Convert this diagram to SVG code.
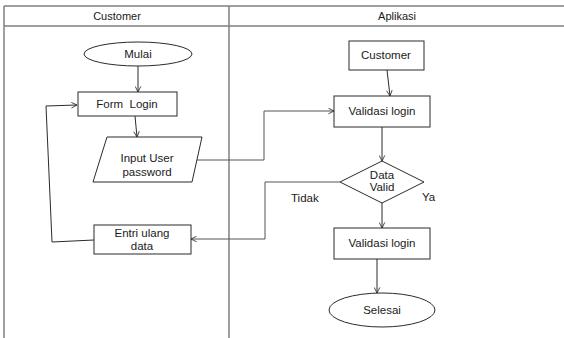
<svg xmlns="http://www.w3.org/2000/svg" width="564" height="338" viewBox="0 0 564 338">
  <style>
    .frame { stroke: #7f7f7f; stroke-width: 1.5; fill: none; }
    .shape { fill: #ffffff; stroke: #2b2b2b; stroke-width: 1; }
    .flow { fill: none; stroke: #2b2b2b; stroke-width: 1; }
    .flow-grey { fill: none; stroke: #555555; stroke-width: 1; }
    text { font-family: "Liberation Sans", Arial, sans-serif; font-size: 11.5px; fill: #1a1a1a; text-anchor: middle; }
    .head { font-size: 11px; }
    .label { text-anchor: start; }
  </style>
  <defs>
    <marker id="arrow" viewBox="0 0 10 10" refX="9" refY="5" markerWidth="7" markerHeight="7" orient="auto" markerUnits="userSpaceOnUse">
      <polyline points="1,1 9,5 1,9" fill="none" stroke="#2b2b2b" stroke-width="1.2"/>
    </marker>
  </defs>

  <rect width="564" height="338" fill="#ffffff"/>

  <!-- swimlane frame -->
  <g id="lanes">
    <line class="frame" x1="4" y1="6" x2="564" y2="6"/>
    <line class="frame" x1="4" y1="26" x2="564" y2="26"/>
    <line class="frame" x1="4" y1="6" x2="4" y2="338"/>
    <line class="frame" x1="229" y1="6" x2="229" y2="338"/>
    <text class="head" x="117" y="20">Customer</text>
    <text class="head" x="397" y="20">Aplikasi</text>
  </g>

  <!-- connectors -->
  <g id="connectors">
    <line class="flow" x1="138" y1="66" x2="138" y2="92" marker-end="url(#arrow)"/>
    <line class="flow" x1="135" y1="116" x2="137" y2="137" marker-end="url(#arrow)"/>
    <polyline class="flow-grey" points="197,160 264,160 264,111 334,111" marker-end="url(#arrow)"/>
    <line class="flow" x1="387" y1="70" x2="390" y2="96" marker-end="url(#arrow)"/>
    <line class="flow" x1="382" y1="127" x2="382" y2="161" marker-end="url(#arrow)"/>
    <polyline class="flow-grey" points="340,182 265,182 265,239 191,239" marker-end="url(#arrow)"/>
    <polyline class="flow" points="94,240 52,242 46,106 77,105" marker-end="url(#arrow)"/>
    <line class="flow" x1="382" y1="203" x2="382" y2="228" marker-end="url(#arrow)"/>
    <line class="flow" x1="377" y1="259" x2="377" y2="293" marker-end="url(#arrow)"/>
    <text class="label" x="291" y="202">Tidak</text>
    <text class="label" x="422" y="201">Ya</text>
  </g>

  <g id="mulai">
    <ellipse class="shape" cx="138" cy="54" rx="54" ry="12"/>
    <text x="138" y="58">Mulai</text>
  </g>

  <g id="form-login">
    <rect class="shape" x="78" y="92" width="99" height="24"/>
    <text x="127" y="108" xml:space="preserve">Form  Login</text>
  </g>

  <g id="input-user">
    <polygon class="shape" points="107,137 202,137 192,182 93,182"/>
    <text x="147" y="162">Input User</text>
    <text x="147" y="176">password</text>
  </g>

  <g id="entri-ulang">
    <rect class="shape" x="94" y="225" width="97" height="29"/>
    <text x="142" y="237">Entri ulang</text>
    <text x="142" y="250">data</text>
  </g>

  <g id="customer">
    <rect class="shape" x="349" y="41" width="75" height="29"/>
    <text x="386" y="59">Customer</text>
  </g>

  <g id="validasi-login-1">
    <rect class="shape" x="334" y="96" width="96" height="31"/>
    <text x="382" y="115">Validasi login</text>
  </g>

  <g id="data-valid">
    <polygon class="shape" points="382,161 424,182 382,203 340,182"/>
    <text x="382" y="179">Data</text>
    <text x="382" y="191">Valid</text>
  </g>

  <g id="validasi-login-2">
    <rect class="shape" x="334" y="228" width="96" height="31"/>
    <text x="382" y="247">Validasi login</text>
  </g>

  <g id="selesai">
    <ellipse class="shape" cx="382" cy="310" rx="53" ry="17"/>
    <text x="382" y="314">Selesai</text>
  </g>
</svg>
